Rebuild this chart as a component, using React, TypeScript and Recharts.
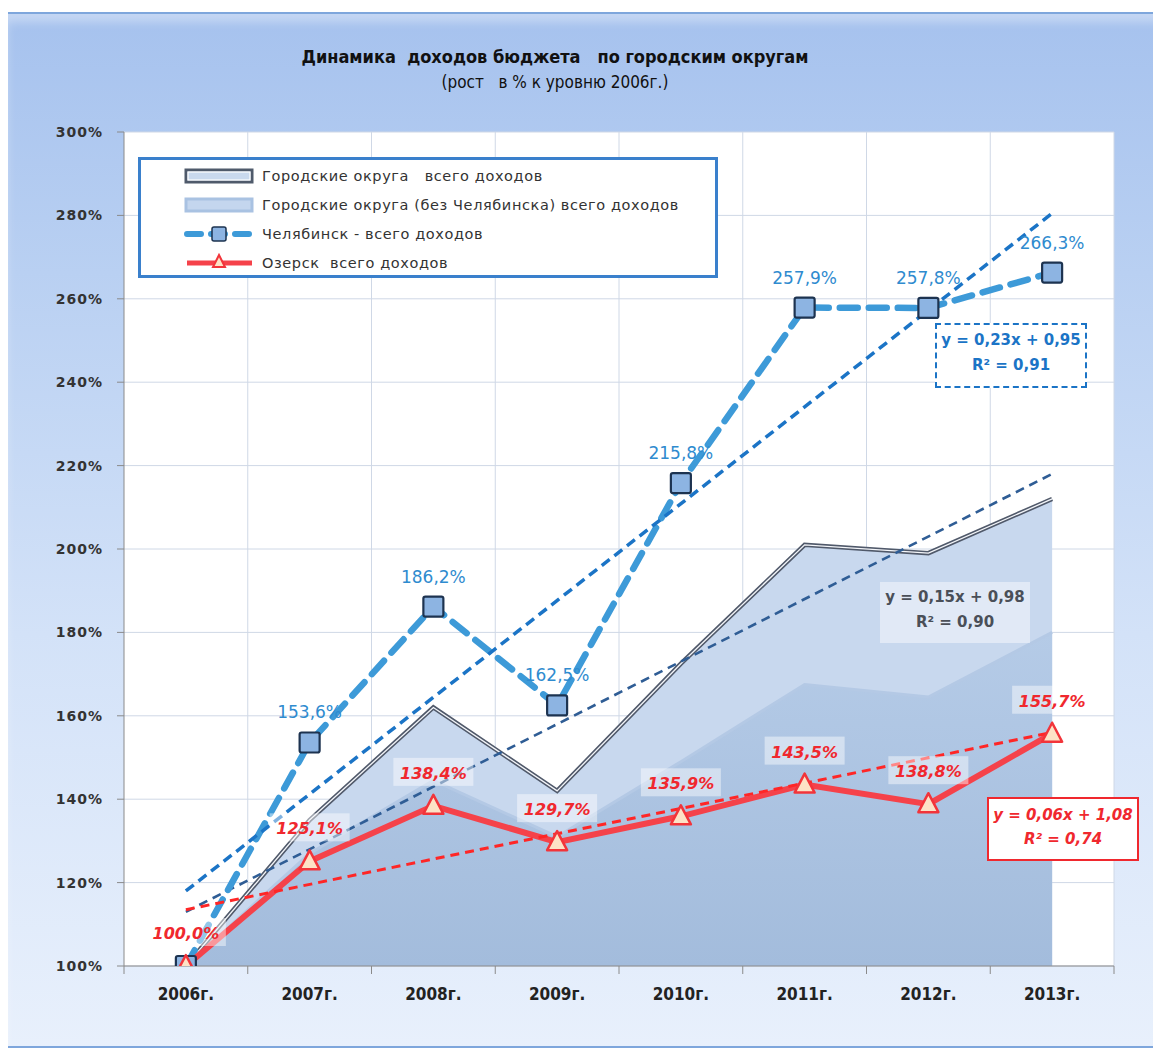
import { ComposedChart, Area, Line, XAxis, YAxis, CartesianGrid, LabelList } from 'recharts';

const YEARS = ['2006г.', '2007г.', '2008г.', '2009г.', '2010г.', '2011г.', '2012г.', '2013г.'];
const TOTAL = [100, 135, 162, 142, 172.5, 201, 199, 212];
const NO_CHEL = [100, 127, 144.5, 131, 149, 167.5, 164.5, 180];
const CHEL = [100, 153.6, 186.2, 162.5, 215.8, 257.9, 257.8, 266.3];
const OZERSK = [100, 125.1, 138.4, 129.7, 135.9, 143.5, 138.8, 155.7];
// trend lines: only the end points
const CHEL_TREND = [118, null, null, null, null, null, null, 280.5];
const TOTAL_TREND = [113, null, null, null, null, null, null, 218];
const OZ_TREND = [113.5, null, null, null, null, null, null, 156];
const Y_TICKS = [100, 120, 140, 160, 180, 200, 220, 240, 260, 280, 300];

const data = YEARS.map((year, i) => ({
  year,
  total: TOTAL[i],
  noChel: NO_CHEL[i],
  chel: CHEL[i],
  ozersk: OZERSK[i],
  chelTrend: CHEL_TREND[i],
  totalTrend: TOTAL_TREND[i],
  ozTrend: OZ_TREND[i],
}));

const W = 1161;
const H = 1050;
const PLOT_LEFT = 124;
const PLOT_RIGHT = 1114;
const PLOT_TOP = 132;
const PLOT_BOTTOM = 966;
const HALF_BAND = (PLOT_RIGHT - PLOT_LEFT) / YEARS.length / 2;

const fmt = (v: number) => v.toFixed(1).replace('.', ',') + '%';
const NARROW = '"Liberation Sans Narrow", "DejaVu Sans Condensed", "Open Sans", sans-serif';
const SANS = '"DejaVu Sans", Verdana, sans-serif';

const SquareDot = (props: any) => {
  const { cx, cy } = props;
  if (cx == null || cy == null) return null;
  return <rect x={cx - 10} y={cy - 10} width={20} height={20} rx={2} fill="#8db4e2" stroke="#1d3350" strokeWidth={2.2} />;
};

const TriDot = (props: any) => {
  const { cx, cy } = props;
  if (cx == null || cy == null) return null;
  return (
    <path d={`M${cx},${cy - 11} L${cx + 10},${cy + 8} L${cx - 10},${cy + 8} Z`} fill="#fde2c6" stroke="#f2343a" strokeWidth={2.5} strokeLinejoin="round" />
  );
};

const ChelLabel = (props: any) => {
  const { x, y, value, index } = props;
  if (index === 0) return null;
  return (
    <text x={x} y={y - 24} textAnchor="middle" fill="#2f8bcf" fontSize={17} fontFamily={SANS}>
      {fmt(value)}
    </text>
  );
};

const OzLabel = (props: any) => {
  const { x, y, value } = props;
  return (
    <g>
      <rect x={x - 40} y={y - 48} width={80} height={28} fill="#ffffff" fillOpacity={0.45} />
      <text x={x} y={y - 27} textAnchor="middle" fill="#f0282e" fontSize={16} fontWeight="bold" fontStyle="italic" fontFamily={SANS}>
        {fmt(value)}
      </text>
    </g>
  );
};

const XTick = (props: any) => {
  const { x, y, payload } = props;
  const idx = YEARS.indexOf(payload.value);
  return (
    <g>
      <line x1={x - HALF_BAND} x2={x - HALF_BAND} y1={y - 8} y2={y} stroke="#8a8a8a" />
      {idx === YEARS.length - 1 && <line x1={x + HALF_BAND} x2={x + HALF_BAND} y1={y - 8} y2={y} stroke="#8a8a8a" />}
      <text x={x} y={y + 26} textAnchor="middle" fill="#222" fontSize={17} fontWeight="bold" fontFamily={NARROW}>
        {payload.value}
      </text>
    </g>
  );
};

const LegendRow = ({ symbol, text }: { symbol: any; text: string }) => (
  <div style={{ display: 'flex', alignItems: 'center', height: 29 }}>
    <svg width={72} height={20} style={{ marginRight: 6 }}>{symbol}</svg>
    <span style={{ whiteSpace: 'pre' }}>{text}</span>
  </div>
);

function ChartLegend() {
  return (
    <div
      style={{
        position: 'absolute', left: 138, top: 157, width: 574, height: 114,
        border: '3px solid #3a80cc', background: '#fff', boxSizing: 'content-box',
        fontFamily: SANS, fontSize: 14.5, letterSpacing: 0.6, color: '#333', paddingTop: 1,
      }}
    >
      <div style={{ marginLeft: 43 }}>
        <LegendRow
          text="Городские округа   всего доходов"
          symbol={<g><rect x={2} y={4} width={66} height={12} fill="#c9d9ee" stroke="#4f5a6b" strokeWidth={3} /><rect x={4} y={6} width={62} height={8} fill="none" stroke="#fff" strokeWidth={1.2} /></g>}
        />
        <LegendRow
          text="Городские округа (без Челябинска) всего доходов"
          symbol={<g><rect x={2} y={4} width={66} height={12} fill="#c4d6ee" stroke="#a9c2e2" strokeWidth={3} /></g>}
        />
        <LegendRow
          text="Челябинск - всего доходов"
          symbol={<g><line x1={3} x2={68} y1={10} y2={10} stroke="#3d9ad8" strokeWidth={6} strokeDasharray="14 10" strokeLinecap="round" /><rect x={28} y={3} width={14} height={14} rx={2} fill="#8db4e2" stroke="#1d3350" strokeWidth={1.5} /></g>}
        />
        <LegendRow
          text="Озерск  всего доходов"
          symbol={<g><line x1={3} x2={68} y1={10} y2={10} stroke="#f5424a" strokeWidth={5} /><path d="M35,2 L41,14 L29,14 Z" fill="#fde2c6" stroke="#f2343a" strokeWidth={2} /></g>}
        />
      </div>
    </div>
  );
}

export default function App() {
  return (
    <div style={{ position: 'relative', width: W, height: H, marginLeft: -8, marginTop: -8, background: '#fff', overflow: 'hidden' }}>
      <div
        style={{
          position: 'absolute', left: 5, top: 12, width: 1160, height: 1032,
          border: '2px solid #7ea6dc', borderRight: 'none',
          background: 'linear-gradient(180deg, #a6c2ee 0%, #b9d0f2 25%, #d3e2f8 60%, #e8f0fc 100%)',
          boxShadow: 'inset 0 8px 10px rgba(255,255,255,0.35)',
        }}
      />
      <div style={{ position: 'absolute', left: 0, width: 1110, top: 46, textAlign: 'center', fontFamily: NARROW, color: '#111' }}>
        <div style={{ fontSize: 18, fontWeight: 'bold', whiteSpace: 'pre' }}>{'Динамика  доходов бюджета   по городским округам'}</div>
        <div style={{ fontSize: 17, marginTop: 5, whiteSpace: 'pre' }}>{'(рост   в % к уровню 2006г.)'}</div>
      </div>
      <div style={{ position: 'absolute', left: 0, top: 0 }}>
        <ComposedChart
          width={W}
          height={H}
          data={data}
          margin={{ top: PLOT_TOP, right: W - PLOT_RIGHT, bottom: 0, left: 0 }}
        >
          <defs>
            <linearGradient id="gNoChel" x1="0" y1="0" x2="0" y2="1">
              <stop offset="0%" stopColor="#b5cbe7" />
              <stop offset="100%" stopColor="#a3bcdc" />
            </linearGradient>
          </defs>
          <CartesianGrid
            fill="#ffffff"
            stroke="#cfd8e6"
            verticalCoordinatesGenerator={({ offset }: any) =>
              YEARS.map((_, i) => offset.left + ((i + 1) * offset.width) / YEARS.length)
            }
          />
          <XAxis
            dataKey="year"
            height={H - PLOT_BOTTOM}
            tick={<XTick />}
            tickLine={false}
            axisLine={{ stroke: '#8a8a8a' }}
            interval={0}
            padding={{ left: HALF_BAND, right: HALF_BAND }}
          />
          <YAxis
            width={PLOT_LEFT}
            domain={[100, 300]}
            ticks={Y_TICKS}
            tickFormatter={(v: number) => v + '%'}
            tick={{ fill: '#333', fontSize: 14, fontWeight: 'bold', fontFamily: SANS, letterSpacing: 1 }}
            tickSize={7}
            tickMargin={14}
            tickLine={{ stroke: '#8a8a8a' }}
            axisLine={{ stroke: '#8a8a8a' }}
            allowDataOverflow
          />
          <Area dataKey="total" type="linear" fill="#c8d8ee" fillOpacity={1} stroke="#50596a" strokeWidth={4.5} isAnimationActive={false} />
          <Line dataKey="total" type="linear" stroke="#f4f6fa" strokeWidth={1.3} dot={false} isAnimationActive={false} />
          <Area dataKey="noChel" type="linear" fill="url(#gNoChel)" fillOpacity={1} stroke="#b4c9e5" strokeWidth={3} isAnimationActive={false} />
          <Line dataKey="totalTrend" type="linear" connectNulls stroke="#2f5d95" strokeWidth={2.6} strokeDasharray="9 6" dot={false} isAnimationActive={false} />
          <Line dataKey="chel" type="linear" stroke="#3d9ad8" strokeWidth={6.5} strokeDasharray="18 11" strokeLinecap="round" dot={<SquareDot />} isAnimationActive={false}>
            <LabelList dataKey="chel" content={<ChelLabel />} />
          </Line>
          <Line dataKey="chelTrend" type="linear" connectNulls stroke="#1b74c6" strokeWidth={3.5} strokeDasharray="10 6" dot={false} isAnimationActive={false} />
          <Line dataKey="ozersk" type="linear" stroke="#f5424a" strokeWidth={6} dot={<TriDot />} isAnimationActive={false}>
            <LabelList dataKey="ozersk" content={<OzLabel />} />
          </Line>
          <Line dataKey="ozTrend" type="linear" connectNulls stroke="#ff2626" strokeWidth={3} strokeDasharray="9 6" dot={false} isAnimationActive={false} />
        </ComposedChart>
      </div>
      <ChartLegend />
      <div
        style={{
          position: 'absolute', left: 935, top: 323, width: 148, height: 58,
          border: '2px dashed #1b74c6', background: '#fff', color: '#1b74c6',
          fontFamily: SANS, fontSize: 15, fontWeight: 'bold', textAlign: 'center', lineHeight: '25px', paddingTop: 3,
        }}
      >
        <div>y = 0,23x + 0,95</div>
        <div>R² = 0,91</div>
      </div>
      <div
        style={{
          position: 'absolute', left: 880, top: 582, width: 150, height: 58,
          background: 'rgba(255,255,255,0.45)', color: '#4a4f58',
          fontFamily: SANS, fontSize: 15, fontWeight: 'bold', textAlign: 'center', lineHeight: '25px', paddingTop: 3,
        }}
      >
        <div>y = 0,15x + 0,98</div>
        <div>R² = 0,90</div>
      </div>
      <div
        style={{
          position: 'absolute', left: 987, top: 797, width: 148, height: 56,
          border: '2px solid #f0282e', background: '#fff', color: '#f0282e',
          fontFamily: SANS, fontSize: 15, fontWeight: 'bold', fontStyle: 'italic', textAlign: 'center', lineHeight: '24px', paddingTop: 4,
        }}
      >
        <div>y = 0,06x + 1,08</div>
        <div>R² = 0,74</div>
      </div>
    </div>
  );
}
